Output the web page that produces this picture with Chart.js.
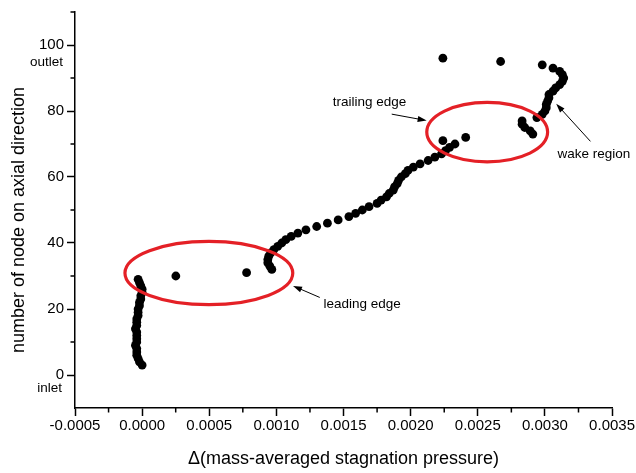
<!DOCTYPE html>
<html>
<head>
<meta charset="utf-8">
<script src="https://cdn.jsdelivr.net/npm/chart.js@4.4.1/dist/chart.umd.min.js"></script>
<style>
  html, body { margin: 0; padding: 0; background: #fff; }
  #wrap { width: 636px; height: 473px; position: relative; }
</style>
</head>
<body>
<div id="wrap"><canvas id="c" width="636" height="473"></canvas></div>
<script>
const FONT = "Arial, 'Liberation Sans', Helvetica, sans-serif";

// Node index along the axial direction
const nodeNumbers = [
  3, 4, 5, 6, 7, 8, 9, 10, 11, 12, 13, 14, 15, 16, 17, 18, 19, 20, 21, 22,
  23, 24, 25, 26, 27, 28, 29, 30, 31, 32, 33, 34, 35, 36, 37, 38, 39, 40, 41, 42,
  43, 44, 45, 46, 47, 48, 49, 50, 51, 52, 53, 54, 55, 56, 57, 58, 59, 60, 61, 62,
  63, 64, 65, 66, 67, 68, 69, 70, 71, 72, 73, 74, 75, 76, 77, 78, 79, 80, 81, 82,
  83, 84, 85, 86, 87, 88, 89, 90, 91, 92, 93, 94, 95, 96
];

// Change of mass-averaged stagnation pressure at each node
const pressureDelta = [
  0.00000, -0.00002, -0.00003, -0.00004, -0.00004, -0.00004, -0.00005, -0.00004, -0.00004, -0.00004,
  -0.00004, -0.00005, -0.00004, -0.00004, -0.00004, -0.00003, -0.00003, -0.00003, -0.00002, -0.00002,
  -0.00001, -0.00001, 0.00000, 0.00000, -0.00001, -0.00002, -0.00003, 0.000251, 0.000778, 0.000966,
  0.000951, 0.000936, 0.000936, 0.000943, 0.000958, 0.000981, 0.00101, 0.00104, 0.00107, 0.00111,
  0.00116, 0.00122, 0.00130, 0.00138, 0.00146, 0.00154, 0.00159, 0.00164, 0.00169, 0.00175,
  0.00178, 0.00182, 0.00184, 0.00187, 0.00188, 0.00190, 0.00191, 0.00193, 0.00196, 0.00198,
  0.00202, 0.00207, 0.00213, 0.00218, 0.00223, 0.00226, 0.00229, 0.00233, 0.00224, 0.00241,
  0.00291, 0.00289, 0.00285, 0.00283, 0.00283, 0.00294, 0.00298, 0.00300, 0.00301, 0.00301,
  0.00302, 0.00303, 0.00303, 0.00306, 0.00308, 0.00311, 0.00313, 0.00314, 0.00313, 0.00311,
  0.00306, 0.00298, 0.00267, 0.00224
];

const xMajorTicks = [-0.0005, 0, 0.0005, 0.001, 0.0015, 0.002, 0.0025, 0.003, 0.0035];
const xTickLabels = ['-0.0005', '0.0000', '0.0005', '0.0010', '0.0015', '0.0020', '0.0025', '0.0030', '0.0035'];
const xMinorTicks = [-0.00025, 0.00025, 0.00075, 0.00125, 0.00175, 0.00225, 0.00275, 0.00325];
const yMajorTicks = [0, 20, 40, 60, 80, 100];
const yTickLabels = ['0', '20', '40', '60', '80', '100'];
const yMinorTicks = [10, 30, 50, 70, 90, 110];

// Highlighted regions, in data units
const regionEllipses = [
  { cx: 0.000497, cy: 30.9, rx: 0.000625, ry: 9.6 },
  { cx: 0.00257, cy: 73.6, rx: 0.00045, ry: 9.0 }
];

// Labelled arrows, in data units
const callouts = [
  { text: 'leading edge', tx: 0.00135, ty: 21.3, from: [0.001323, 23.5], to: [0.001124, 27.0] },
  { text: 'trailing edge', tx: 0.00142, ty: 82.5, from: [0.001859, 79.05], to: [0.002119, 77.1] },
  { text: 'wake region', tx: 0.003094, ty: 66.9, from: [0.003339, 70.8], to: [0.003084, 82.2] }
];

const decorations = {
  id: 'decorations',
  afterDatasetsDraw(chart) {
    const { ctx } = chart;
    const xs = chart.scales.x, ys = chart.scales.y;
    ctx.save();

    // minor ticks
    ctx.strokeStyle = '#000';
    ctx.lineWidth = 1.5;
    ctx.beginPath();
    xMinorTicks.forEach(v => {
      const px = xs.getPixelForValue(v);
      ctx.moveTo(px, ys.bottom);
      ctx.lineTo(px, ys.bottom + 4.5);
    });
    yMinorTicks.forEach(v => {
      const py = ys.getPixelForValue(v);
      ctx.moveTo(xs.left, py);
      ctx.lineTo(xs.left - 4.5, py);
    });
    ctx.stroke();

    // red ellipses
    ctx.strokeStyle = 'rgb(228,32,38)';
    ctx.lineWidth = 3.2;
    regionEllipses.forEach(e => {
      const cx = xs.getPixelForValue(e.cx), cy = ys.getPixelForValue(e.cy);
      const rx = Math.abs(xs.getPixelForValue(e.cx + e.rx) - cx);
      const ry = Math.abs(ys.getPixelForValue(e.cy + e.ry) - cy);
      ctx.beginPath();
      ctx.ellipse(cx, cy, rx, ry, 0, 0, Math.PI * 2);
      ctx.stroke();
    });

    // arrows and their labels
    ctx.fillStyle = '#000';
    ctx.strokeStyle = '#000';
    ctx.lineWidth = 1;
    ctx.font = `13.5px ${FONT}`;
    ctx.textAlign = 'left';
    ctx.textBaseline = 'middle';
    callouts.forEach(c => {
      const x1 = xs.getPixelForValue(c.from[0]), y1 = ys.getPixelForValue(c.from[1]);
      const x2 = xs.getPixelForValue(c.to[0]), y2 = ys.getPixelForValue(c.to[1]);
      const ang = Math.atan2(y2 - y1, x2 - x1);
      const hl = 9, hw = 3;
      ctx.beginPath();
      ctx.moveTo(x1, y1);
      ctx.lineTo(x2 - Math.cos(ang) * hl * 0.8, y2 - Math.sin(ang) * hl * 0.8);
      ctx.stroke();
      ctx.beginPath();
      ctx.moveTo(x2, y2);
      ctx.lineTo(x2 - Math.cos(ang) * hl + Math.sin(ang) * hw, y2 - Math.sin(ang) * hl - Math.cos(ang) * hw);
      ctx.lineTo(x2 - Math.cos(ang) * hl - Math.sin(ang) * hw, y2 - Math.sin(ang) * hl + Math.cos(ang) * hw);
      ctx.closePath();
      ctx.fill();
      ctx.fillText(c.text, xs.getPixelForValue(c.tx), ys.getPixelForValue(c.ty));
    });

    // inlet / outlet notes under the end ticks
    ctx.textAlign = 'right';
    ctx.fillText('outlet', xs.left - 12, ys.getPixelForValue(100) + 17);
    ctx.fillText('inlet', xs.left - 13, ys.getPixelForValue(0) + 13);

    // y axis title
    ctx.font = `18px ${FONT}`;
    ctx.textAlign = 'center';
    ctx.translate(19, 220);
    ctx.rotate(-Math.PI / 2);
    ctx.fillText('number of node on axial direction', 0, 0);

    ctx.restore();
  }
};

const points = nodeNumbers.map((n, i) => ({ x: pressureDelta[i], y: n }));

new Chart(document.getElementById('c'), {
  type: 'scatter',
  data: {
    datasets: [{
      data: points,
      backgroundColor: '#000',
      borderColor: '#000',
      borderWidth: 0,
      pointRadius: 4.4,
      pointHoverRadius: 4.4
    }]
  },
  options: {
    responsive: false,
    animation: false,
    events: [],
    layout: { padding: { top: 7, right: 23, left: 0, bottom: 0 } },
    plugins: {
      legend: { display: false },
      tooltip: { enabled: false }
    },
    scales: {
      x: {
        type: 'linear',
        min: -0.0005,
        max: 0.0035,
        afterBuildTicks: s => { s.ticks = xMajorTicks.map(v => ({ value: v })); },
        afterFit: s => { s.height = 65; },
        ticks: {
          autoSkip: false,
          maxRotation: 0,
          padding: 1,
          color: '#000',
          font: { family: FONT, size: 15 },
          callback: (v, i) => xTickLabels[i]
        },
        grid: { drawOnChartArea: false, drawTicks: true, tickLength: 8, tickWidth: 1.5, tickColor: '#000' },
        border: { display: true, color: '#000', width: 1.5 },
        title: {
          display: true,
          text: 'Δ(mass-averaged stagnation pressure)',
          color: '#000',
          font: { family: FONT, size: 18 },
          padding: { top: 0, bottom: 3 }
        }
      },
      y: {
        type: 'linear',
        min: -10,
        max: 110,
        afterBuildTicks: s => { s.ticks = yMajorTicks.map(v => ({ value: v })); },
        afterFit: s => { s.width = 75; },
        ticks: {
          autoSkip: false,
          padding: 3,
          color: '#000',
          font: { family: FONT, size: 15 },
          callback: (v, i) => yTickLabels[i]
        },
        grid: { drawOnChartArea: false, drawTicks: true, tickLength: 8, tickWidth: 1.5, tickColor: '#000' },
        border: { display: true, color: '#000', width: 1.5 },
        title: { display: false }
      }
    }
  },
  plugins: [decorations]
});
</script>
</body>
</html>
